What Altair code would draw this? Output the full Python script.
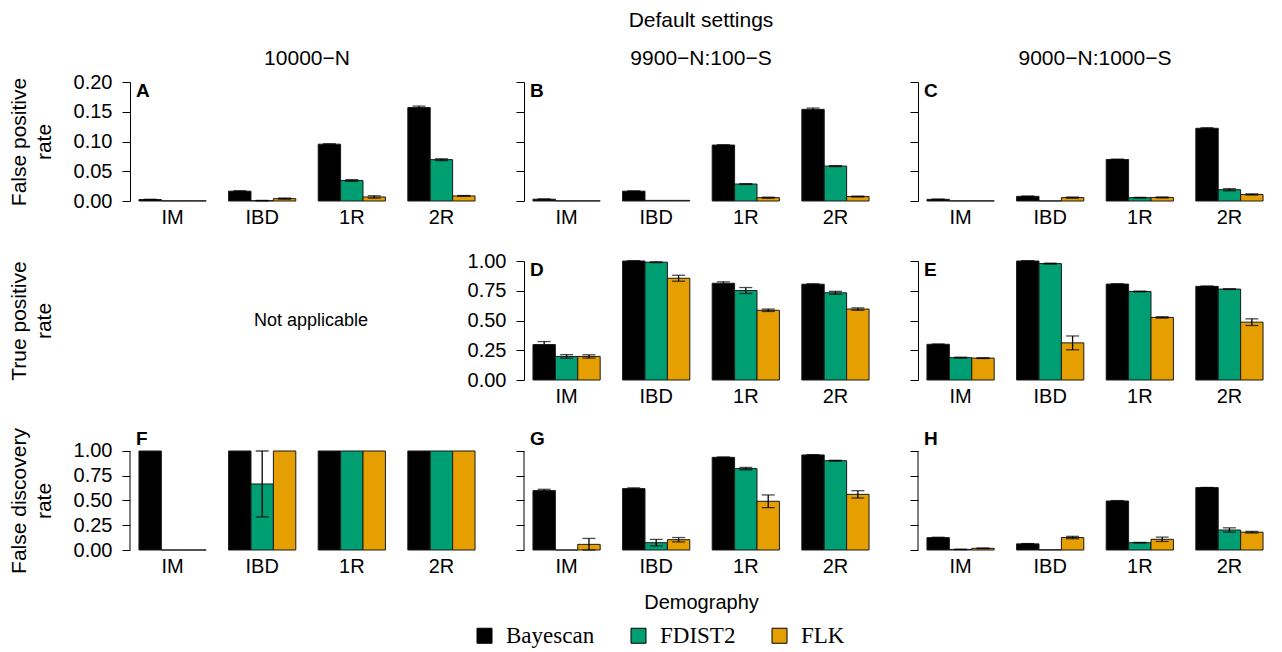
import altair as alt
import pandas as pd

groups = ["IM", "IBD", "1R", "2R"]
methods = ["Bayescan", "FDIST2", "FLK"]
colors = ["#000000", "#009E73", "#E69F00"]

# values: [Bayescan, FDIST2, FLK] x [IM, IBD, 1R, 2R]
A_val = [[0.0025, 0.0165, 0.0955, 0.157], [0.0003, 0.0006, 0.0345, 0.0695], [0.0003, 0.004, 0.0068, 0.0085]]
A_err = [[0.0004, 0.0008, 0.0008, 0.0025], [0.0, 0.0003, 0.0015, 0.0015], [0.0, 0.001, 0.002, 0.0007]]
B_val = [[0.003, 0.0165, 0.094, 0.154], [0.0003, 0.001, 0.0285, 0.0587], [0.0003, 0.001, 0.0056, 0.0075]]
B_err = [[0.0003, 0.0005, 0.0005, 0.0022], [0.0, 0.0, 0.0007, 0.0008], [0.0, 0.0, 0.0008, 0.0008]]
C_val = [[0.0028, 0.0078, 0.0698, 0.1222], [0.0003, 0.0002, 0.0056, 0.019], [0.0003, 0.0057, 0.006, 0.011]]
C_err = [[0.0003, 0.0006, 0.0006, 0.001], [0.0, 0.0, 0.0005, 0.0018], [0.0, 0.001, 0.0008, 0.001]]
D_val = [[0.298, 1.0, 0.813, 0.805], [0.198, 0.99, 0.752, 0.733], [0.198, 0.855, 0.586, 0.596]]
D_err = [[0.025, 0.002, 0.012, 0.004], [0.015, 0.003, 0.025, 0.012], [0.014, 0.025, 0.01, 0.01]]
E_val = [[0.3, 1.0, 0.806, 0.787], [0.188, 0.978, 0.744, 0.764], [0.184, 0.312, 0.526, 0.486]]
E_err = [[0.003, 0.002, 0.003, 0.003], [0.004, 0.004, 0.003, 0.003], [0.003, 0.058, 0.006, 0.028]]
F_val = [[1.0, 1.0, 1.0, 1.0], [0.0, 0.667, 1.0, 1.0], [0.0, 1.0, 1.0, 1.0]]
F_err = [[0.0, 0.0, 0.0, 0.0], [0.0, 0.333, 0.0, 0.0], [0.0, 0.0, 0.0, 0.0]]
G_val = [[0.6, 0.62, 0.936, 0.96], [0.0, 0.074, 0.822, 0.902], [0.057, 0.104, 0.492, 0.562]]
G_err = [[0.013, 0.008, 0.004, 0.003], [0.0, 0.033, 0.012, 0.004], [0.06, 0.022, 0.064, 0.037]]
H_val = [[0.125, 0.062, 0.495, 0.63], [0.006, 0.002, 0.074, 0.202], [0.017, 0.126, 0.108, 0.18]]
H_err = [[0.004, 0.003, 0.004, 0.002], [0.002, 0.0, 0.003, 0.022], [0.003, 0.012, 0.022, 0.008]]

row_titles = [["False positive", "rate"], ["True positive", "rate"], ["False discovery", "rate"]]
main_title = "Default settings"
col_titles = ["10000\u2212N", "9900\u2212N:100\u2212S", "9000\u2212N:1000\u2212S"]
fpr_ticks = [0, 0.05, 0.10, 0.15, 0.20]
rate_ticks = [0, 0.25, 0.5, 0.75, 1.0]

FONT = "Liberation Sans"
W, H, H3 = 354, 119, 110
TX = -111


def frame(vals, errs):
    rows = []
    for mi, m in enumerate(methods):
        for gi, g in enumerate(groups):
            v = vals[mi][gi]
            e = errs[mi][gi]
            rows.append(dict(group=g, method=m, val=v, lo=max(v - e, 0.0), hi=v + e, err=e))
    return pd.DataFrame(rows)


def head_text(text, y):
    return alt.Chart(pd.DataFrame({"t": [text]})).mark_text(
        align="center", baseline="middle", fontSize=21, font=FONT, color="black").encode(
        text="t:N", x=alt.value(W / 2), y=alt.value(y))


def panel(letter, vals, errs, row, ylabels, ytitle=None, xtitle=None, heads=()):
    df = frame(vals, errs)
    if row == 0:
        domain, ticks, h = [0, 0.2], fpr_ticks, H
    elif row == 1:
        domain, ticks, h = [0, 1], rate_ticks, H
    else:
        domain, ticks, h = [0, 1.111], rate_ticks, H3
    ykw = dict(values=ticks, format=".2f", labels=ylabels, domain=(row < 2), domainColor="black",
               domainWidth=1, tickColor="black", tickWidth=1, tickSize=8, labelPadding=10,
               labelFont=FONT, labelFontSize=20, labelColor="black", grid=False)
    if ytitle is not None:
        ykw.update(title=ytitle, titleX=TX, titleY=(h / 2 if row < 2 else 60.5), titleAngle=270,
                   titleAlign="center", titleBaseline="middle", titleLineHeight=25,
                   titleFont=FONT, titleFontSize=21, titleFontWeight="normal", titleColor="black")
    else:
        ykw.update(title=None)
    yaxis = alt.Axis(**ykw)
    xkw = dict(labelAngle=0, ticks=False, tickSize=0, domain=False, labelPadding=6,
               labelFont=FONT, labelFontSize=20, labelColor="black", grid=False)
    if xtitle is not None:
        xkw.update(title=xtitle, titleY=52, titleBaseline="middle", titleFont=FONT,
                   titleFontSize=20, titleFontWeight="normal", titleColor="black")
    else:
        xkw.update(title=None)
    xaxis = alt.Axis(**xkw)
    yscale = alt.Scale(domain=domain, nice=False, zero=True)
    ex = alt.X("group:N", sort=groups, scale=alt.Scale(domain=groups, paddingInner=0.25, paddingOuter=0.1), axis=xaxis)
    exo = alt.XOffset("method:N", sort=methods, scale=alt.Scale(domain=methods))
    legend = alt.Legend(title=None, orient="none", legendX=343, legendY=542, direction="horizontal",
                        columns=3, symbolType="square", symbolSize=225, symbolStrokeColor="black",
                        symbolStrokeWidth=1, labelFont="Liberation Serif", labelFontSize=23,
                        labelOffset=10, columnPadding=32, labelColor="black")
    bars = alt.Chart(df).mark_bar(stroke="#1a1a1a", strokeWidth=1).encode(
        x=ex, xOffset=exo, y=alt.Y("val:Q", scale=yscale, axis=yaxis),
        color=alt.Color("method:N", scale=alt.Scale(domain=methods, range=colors), legend=legend))
    edf = df[df.err > 0]
    rule = alt.Chart(edf).mark_rule(color="black", strokeWidth=1.3).encode(
        x=ex, xOffset=exo, y=alt.Y("lo:Q", scale=yscale, axis=yaxis), y2="hi:Q")
    cap_lo = alt.Chart(edf).mark_tick(color="black", size=13, thickness=1.3).encode(
        x=ex, xOffset=exo, y=alt.Y("lo:Q", scale=yscale, axis=yaxis))
    cap_hi = alt.Chart(edf).mark_tick(color="black", size=13, thickness=1.3).encode(
        x=ex, xOffset=exo, y=alt.Y("hi:Q", scale=yscale, axis=yaxis))
    lab = alt.Chart(pd.DataFrame({"t": [letter]})).mark_text(
        align="left", baseline="middle", fontSize=19, fontWeight="bold", font=FONT, color="black").encode(
        text="t:N", x=alt.value(6), y=alt.value(9 if row < 2 else -1))
    layers = [bars, rule, cap_lo, cap_hi, lab]
    if row == 2:
        dline = alt.Chart(pd.DataFrame({"lo": [0.0], "hi": [1.0]})).mark_rule(color="black", strokeWidth=1).encode(
            x=alt.value(0), y=alt.Y("lo:Q", scale=yscale, axis=yaxis), y2="hi:Q")
        layers.append(dline)
    for t, y in heads:
        layers.append(head_text(t, y))
    return alt.layer(*layers).properties(width=W, height=h)


pA = panel("A", A_val, A_err, 0, True, ytitle=row_titles[0], heads=[(col_titles[0], -23)])
pB = panel("B", B_val, B_err, 0, False, heads=[(main_title, -61), (col_titles[1], -23)])
pC = panel("C", C_val, C_err, 0, False, heads=[(col_titles[2], -23)])

na_df = pd.DataFrame({"t": ["Not applicable"], "v": [0.5]})
pNA = alt.Chart(na_df).mark_text(fontSize=18, font=FONT, color="black").encode(
    x=alt.value(W / 2 + 4),
    y=alt.Y("v:Q", scale=alt.Scale(domain=[0, 1]),
            axis=alt.Axis(domain=False, ticks=False, labels=False, grid=False, title=row_titles[1],
                          titleX=TX, titleY=H / 2, titleAngle=270, titleAlign="center",
                          titleBaseline="middle", titleLineHeight=25, titleFont=FONT, titleFontSize=21,
                          titleFontWeight="normal", titleColor="black")),
    text="t:N").properties(width=W, height=H)
pD = panel("D", D_val, D_err, 1, True)
pE = panel("E", E_val, E_err, 1, False)
pF = panel("F", F_val, F_err, 2, True, ytitle=row_titles[2])
pG = panel("G", G_val, G_err, 2, False, xtitle="Demography")
pH = panel("H", H_val, H_err, 2, False)

chart = alt.concat(pA, pB, pC, pNA, pD, pE, pF, pG, pH, columns=3,
                   spacing={"row": 60, "column": 40}, bounds="flush").resolve_scale(
    x="independent", y="independent", xOffset="independent", color="shared").configure_view(
    stroke=None).properties(padding={"left": 0, "top": 2, "right": 0, "bottom": 0})

chart.save("out.html", embed_options={"renderer": "svg", "actions": False})
